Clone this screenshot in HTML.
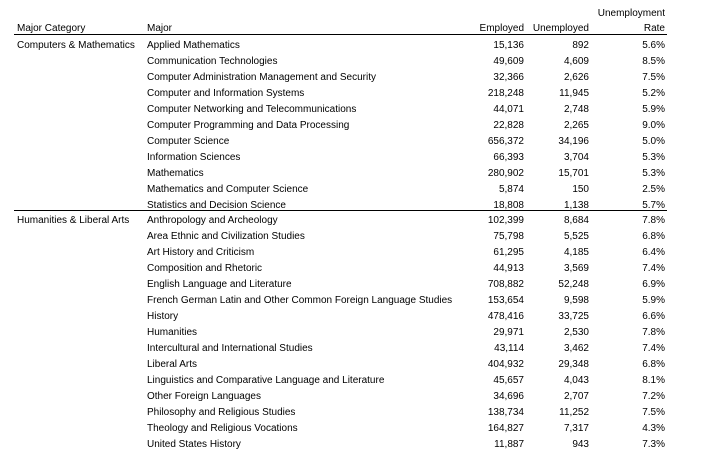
<!DOCTYPE html>
<html><head><meta charset="utf-8"><style>
body{margin:0;width:724px;height:456px;background:#fff;position:relative;overflow:hidden;font-family:"Liberation Sans",sans-serif;font-size:10px;color:#000}
.t{position:absolute;white-space:nowrap;line-height:12px}
.r{text-align:right}
.line{position:absolute;left:14px;width:653px;height:1px;background:#000}
</style></head><body>
<div class="t" style="left:596px;top:8px;width:69px;text-align:right">Unemployment</div>
<div class="t" style="left:17px;top:23px">Major Category</div>
<div class="t" style="left:147px;top:23px">Major</div>
<div class="t r" style="left:440px;top:23px;width:84px">Employed</div>
<div class="t r" style="left:520px;top:23px;width:69px">Unemployed</div>
<div class="t r" style="left:596px;top:23px;width:69px">Rate</div>
<div class="line" style="top:34px"></div>
<div class="line" style="top:210px"></div>
<div id="rows"></div>
<script>
const categories=["Computers & Mathematics","Humanities & Liberal Arts"];
const majors=[["Applied Mathematics","Communication Technologies","Computer Administration Management and Security","Computer and Information Systems","Computer Networking and Telecommunications","Computer Programming and Data Processing","Computer Science","Information Sciences","Mathematics","Mathematics and Computer Science","Statistics and Decision Science"],
["Anthropology and Archeology","Area Ethnic and Civilization Studies","Art History and Criticism","Composition and Rhetoric","English Language and Literature","French German Latin and Other Common Foreign Language Studies","History","Humanities","Intercultural and International Studies","Liberal Arts","Linguistics and Comparative Language and Literature","Other Foreign Languages","Philosophy and Religious Studies","Theology and Religious Vocations","United States History"]];
const employed=[[15136,49609,32366,218248,44071,22828,656372,66393,280902,5874,18808],[102399,75798,61295,44913,708882,153654,478416,29971,43114,404932,45657,34696,138734,164827,11887]];
const unemployed=[[892,4609,2626,11945,2748,2265,34196,3704,15701,150,1138],[8684,5525,4185,3569,52248,9598,33725,2530,3462,29348,4043,2707,11252,7317,943]];
const rates=[["5.6%","8.5%","7.5%","5.2%","5.9%","9.0%","5.0%","5.3%","5.3%","2.5%","5.7%"],["7.8%","6.8%","6.4%","7.4%","6.9%","5.9%","6.6%","7.8%","7.4%","6.8%","8.1%","7.2%","7.5%","4.3%","7.3%"]];
const root=document.getElementById('rows');
function cell(txt,left,top,w,right,name){
  const d=document.createElement('div');
  d.className='t'+(right?' r':'');
  d.style.left=left+'px';d.style.top=top+'px';
  if(w)d.style.width=w+'px';
  d.textContent=txt;
  
  
  root.appendChild(d);
}
const fmt=n=>n.toLocaleString('en-US');
const starts=[40,215];
categories.forEach((c,g)=>{
  cell(c,17,starts[g],0,false,'category-label');
  majors[g].forEach((m,i)=>{
    const y=starts[g]+i*16;
    cell(m,147,y,0,false,'major-name');
    cell(fmt(employed[g][i]),440,y,84,true,'employed-value');
    cell(fmt(unemployed[g][i]),520,y,69,true,'unemployed-value');
    cell(rates[g][i],596,y,69,true,'rate-value');
  });
});
</script>
</body></html>
